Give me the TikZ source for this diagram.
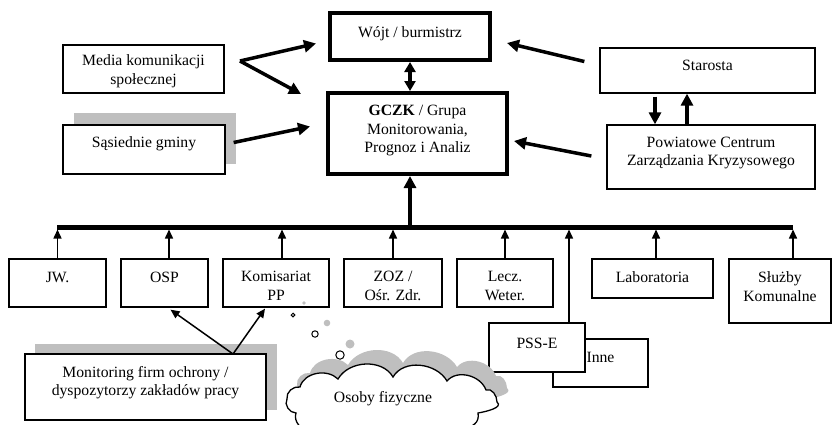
\documentclass[tikz,border=0pt]{standalone}
\usepackage{fontspec}
\setmainfont{Liberation Serif}
\usetikzlibrary{arrows.meta,calc}

\tikzset{
  box/.style={draw, rectangle, line width=1.3pt, fill=white, inner sep=0pt},
  chief/.style={box, line width=4pt},
  lbl/.style={font=\fontsize{15.7}{18.5}\selectfont, align=center, inner sep=0pt},
  shadowfill/.style={fill=black!25, draw=none},
  fat/.style={line width=3.5pt, -{Triangle[length=12pt,width=12pt]}},
  fatboth/.style={line width=3.5pt, {Triangle[length=10pt,width=11pt]}-{Triangle[length=10pt,width=11pt]}},
  feed/.style={line width=1.5pt, -{Triangle[length=9pt,width=8pt]}},
  bus/.style={line width=5pt},
  bubble/.style={draw, line width=1pt, fill=white},
}

% outline of the "Osoby fizyczne" cloud
\newcommand\osobycloud{%
  (287,399) to[out=100,in=170] (300,387)
  to[out=75,in=135] (338,379)
  to[out=60,in=120] (393,377)
  to[out=60,in=120] (447,381)
  to[out=50,in=110] (486,390)
  to[out=20,in=90] (497,402)
  to[out=-40,in=10] (478,413)
  to[out=-80,in=10] (430,432)
  to[out=-120,in=-60] (370,434)
  to[out=-120,in=-60] (310,430)
  to[out=190,in=250] (296,413)
  to[out=180,in=240] cycle}

\begin{document}
\begin{tikzpicture}[x=1pt,y=-1pt]
\useasboundingbox (0,0) rectangle (832,424);

% ---- top level ----
\node[chief, minimum width=160, minimum height=47,
      label={[lbl,yshift=3pt]center:{Wójt / burmistrz}}] (wojt) at (410,36.5) {};
\node[chief, minimum width=179, minimum height=81,
      label={[lbl,yshift=3pt]center:{\textbf{GCZK} / Grupa\\Monitorowania,\\Prognoz i Analiz}}] (gczk) at (417.5,133.5) {};

% ---- left side ----
\node[box, minimum width=161, minimum height=48,
      label={[lbl,yshift=-2pt]center:{Media komunikacji\\społecznej}}] (media) at (143.5,69) {};
\fill[shadowfill] (74,113) rectangle (236,164);
\node[box, minimum width=162, minimum height=49,
      label={[lbl,yshift=6pt]center:{Sąsiednie gminy}}] (sas) at (144,149.5) {};

% ---- right side ----
\node[box, minimum width=215, minimum height=45,
      label={[lbl,yshift=5pt]center:{Starosta}}] (starosta) at (707.5,70.5) {};
\node[box, minimum width=208, minimum height=64,
      label={[lbl,yshift=4pt]center:{Powiatowe Centrum\\Zarządzania Kryzysowego}}] (pczk) at (711,157) {};

% ---- services ----
\node[box, minimum width=97, minimum height=48,
      label={[lbl,yshift=6pt]center:{JW.}}] (jw) at (57.5,283) {};
\node[box, minimum width=87, minimum height=48,
      label={[lbl,yshift=6pt]center:{OSP}}] (osp) at (164.5,283) {};
\node[box, minimum width=106, minimum height=48,
      label={[lbl,yshift=-3pt]center:{Komisariat\\PP}}] (kom) at (276,283) {};
\node[box, minimum width=98, minimum height=48,
      label={[lbl,yshift=-3pt]center:{ZOZ /\\Ośr. Zdr.}}] (zoz) at (393,283) {};
\node[box, minimum width=96, minimum height=48,
      label={[lbl,yshift=-3pt]center:{Lecz.\\Weter.}}] (lecz) at (505,283) {};
\node[box, minimum width=121, minimum height=39,
      label={[lbl,yshift=1.5pt]center:{Laboratoria}}] (lab) at (652.5,278.5) {};
\node[box, minimum width=102, minimum height=64,
      label={[lbl,yshift=4.5pt]center:{Służby\\Komunalne}}] (sluzby) at (780,291) {};

\node[box, minimum width=95, minimum height=48,
      label={[lbl,yshift=6pt]center:{Inne}}] (inne) at (600.5,363) {};
\node[box, minimum width=96, minimum height=49,
      label={[lbl,yshift=4.5pt]center:{PSS-E}}] (pss) at (537,347.5) {};

% ---- monitoring ----
\fill[shadowfill] (35,344) rectangle (277,410);
\node[box, minimum width=241, minimum height=66,
      label={[lbl,yshift=4.5pt]center:{Monitoring firm ochrony /\\dyspozytorzy zakładów pracy}}] (mon) at (145.5,387) {};

% ---- individuals: thought bubbles and cloud ----
\fill[shadowfill] (304,303) circle (1.8);
\fill[shadowfill] (327,323) circle (3.3);
\fill[shadowfill] (350,344) circle (4.5);
\draw[bubble] (293,315) circle (1.8);
\draw[bubble] (315,334) circle (3.2);
\draw[bubble] (340,355) circle (4.2);
\begin{scope}[shift={(10,-14)}]
  \fill[shadowfill] \osobycloud;
\end{scope}
\draw[line width=1.3pt, fill=white] \osobycloud;
\node[lbl] (osoby) at (383,399) {Osoby fizyczne};

% ---- connectors: top ----
\coordinate (mfork) at (240,61);
\draw[fat] (mfork) -- ($(wojt.west)+(-12,7)$);
\draw[fat] (mfork) -- ($(gczk.north west)+(-25,3)$);
\draw[fat] ($(sas.east)+(8,-7)$) -- ($(gczk.west)+(-16,-7)$);
\draw[fat] ($(starosta.west)+(-15,-9)$) -- ($(wojt.east)+(15,6.5)$);
\draw[fat] ($(pczk.west)+(-15,-1)$) -- ($(gczk.east)+(5,7.5)$);
\draw[fatboth] (wojt.south) -- (wojt.south |- gczk.north);

\coordinate (sdown) at ($(starosta.south)+(-52.5,3)$);
\coordinate (sup)   at ($(pczk.north)+(-24,0)$);
\draw[fat] (sdown) -- (sdown |- pczk.north);
\draw[fat] (sup) -- (sup |- starosta.south);

% ---- bus ----
\coordinate (busL) at (57,227);
\coordinate (busR) at (793,227);
\coordinate (busG) at (410,227);
\draw[bus] (busL) -- (busR);
\draw[fat] (busG) -- (busG |- gczk.south);

\coordinate (jwT)  at (jw.north);
\coordinate (ospT) at ($(osp.north)+(4.5,0)$);
\coordinate (komT) at ($(kom.north)+(6,0)$);
\coordinate (zozT) at (zoz.north);
\coordinate (lecT) at (lecz.north);
\coordinate (pssT) at ($(pss.north)+(32,0)$);
\coordinate (labT) at ($(lab.north)+(3.5,0)$);
\coordinate (sluT) at ($(sluzby.north)+(13,0)$);
\foreach \c in {jwT,ospT,komT,zozT,lecT,pssT,labT,sluT}
  \draw[feed, shorten >=2.5pt] (\c) -- (\c |- busL);

% ---- monitoring links ----
\coordinate (mtop) at (233,354);
\draw[feed] (mtop) -- ($(osp.south)+(6,2)$);
\draw[feed] (mtop) -- ($(kom.south)+(-11,1)$);
\end{tikzpicture}
\end{document}
